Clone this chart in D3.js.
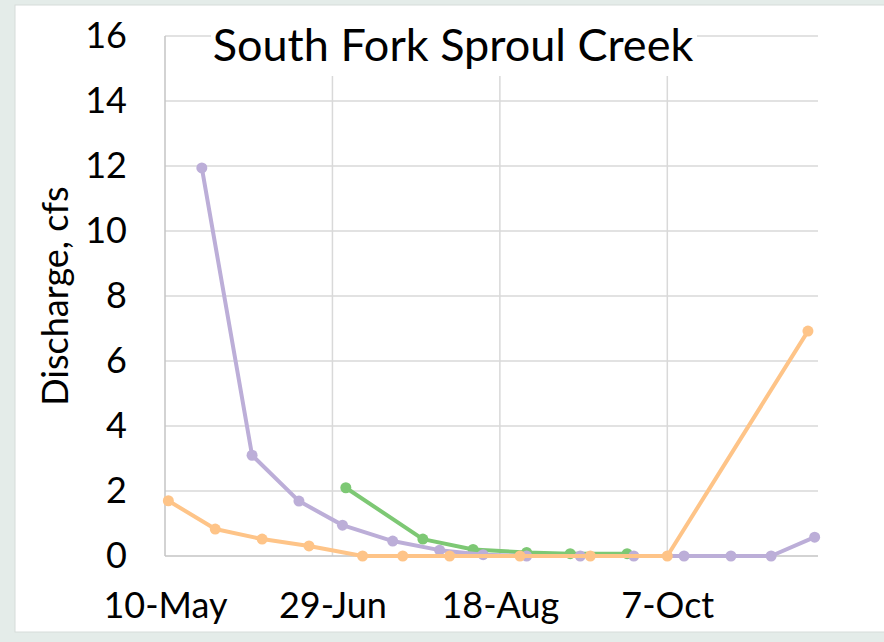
<!DOCTYPE html>
<html>
<head>
<meta charset="utf-8">
<script src="https://cdn.jsdelivr.net/npm/d3@7"></script>
<style>
  body { margin: 0; background: #e4ece9; }
  svg { display: block; font-family: Lato, "Open Sans", sans-serif; }
</style>
</head>
<body>
<div id="chart"></div>
<script>
// discharge readings, cfs
const orangeDates = ['2001-05-11', '2001-05-25', '2001-06-08', '2001-06-22', '2001-07-08', '2001-07-20',
  '2001-08-03', '2001-08-24', '2001-09-14', '2001-10-07', '2001-11-18'];
const orangeValues = [1.7, 0.83, 0.52, 0.31, 0, 0, 0, 0, 0, 0, 6.92];

const purpleDates = ['2001-05-21', '2001-06-05', '2001-06-19', '2001-07-02', '2001-07-17', '2001-07-31',
  '2001-08-13', '2001-08-26', '2001-09-11', '2001-09-27', '2001-10-12', '2001-10-26', '2001-11-07', '2001-11-20'];
const purpleValues = [11.94, 3.1, 1.69, 0.95, 0.46, 0.18, 0.04, 0, 0, 0, 0, 0, 0, 0.58];

const greenDates = ['2001-07-03', '2001-07-26', '2001-08-10', '2001-08-26', '2001-09-08', '2001-09-25'];
const greenValues = [2.1, 0.52, 0.2, 0.11, 0.07, 0.07];

const xTickDates = ['2001-05-10', '2001-06-29', '2001-08-18', '2001-10-07'];
const xDomain = ['2001-05-10', '2001-11-21'];
const yTicks = [0, 2, 4, 6, 8, 10, 12, 14, 16];

const width = 884;
const height = 642;
const margin = {top: 36, right: 66, bottom: 86, left: 165};

const parse = d3.timeParse('%Y-%m-%d');

let svg = d3.select('#chart')
    .append('svg')
    .attr('width', width)
    .attr('height', height);

// white card
svg.append('rect')
    .attr('x', 15).attr('y', 5)
    .attr('width', width).attr('height', 627)
    .attr('fill', '#fff')
    .attr('stroke', '#d6dcda');

let x = d3.scaleTime()
    .domain(xDomain.map(parse))
    .range([margin.left, width - margin.right]);

let y = d3.scaleLinear()
    .domain([0, 16])
    .range([height - margin.bottom, margin.top]);

// gridlines
svg.append('g')
    .selectAll('line.h')
    .data(yTicks.filter(d => d > 0))
    .enter().append('line')
    .attr('x1', x.range()[0]).attr('x2', x.range()[1])
    .attr('y1', d => y(d)).attr('y2', d => y(d))
    .attr('stroke', '#d9d9d9').attr('stroke-width', 1.5);

svg.append('g')
    .selectAll('line.v')
    .data(xTickDates.slice(1).map(parse))
    .enter().append('line')
    .attr('x1', d => x(d)).attr('x2', d => x(d))
    .attr('y1', y(0)).attr('y2', y(16))
    .attr('stroke', '#d9d9d9').attr('stroke-width', 1.5);

// axis lines
svg.append('line')
    .attr('x1', x.range()[0]).attr('x2', x.range()[0])
    .attr('y1', y(0)).attr('y2', y(16))
    .attr('stroke', '#c4c4c4').attr('stroke-width', 1.5);
svg.append('line')
    .attr('x1', x.range()[0]).attr('x2', x.range()[1])
    .attr('y1', y(0)).attr('y2', y(0))
    .attr('stroke', '#c4c4c4').attr('stroke-width', 1.5);

// title box covers the gridlines behind it
svg.append('rect')
    .attr('x', 211).attr('y', 10)
    .attr('width', 486).attr('height', 66)
    .attr('fill', '#fff');

svg.append('text')
    .attr('x', 453).attr('y', 61)
    .attr('text-anchor', 'middle')
    .style('font-size', '45px')
    .style('fill', '#000')
    .text('South Fork Sproul Creek');

// axes
let yAxis = svg.append('g')
    .attr('transform', `translate(${margin.left}, 0)`)
    .call(d3.axisLeft(y).tickValues(yTicks).tickSize(0).tickPadding(38));
yAxis.select('.domain').remove();
yAxis.selectAll('text')
    .style('font-size', '36px')
    .style('font-family', 'Lato, "Open Sans", sans-serif')
    .attr('fill', '#000');

let xAxis = svg.append('g')
    .attr('transform', `translate(0, ${y(0)})`)
    .call(d3.axisBottom(x).tickValues(xTickDates.map(parse))
        .tickFormat(d3.timeFormat('%-d-%b')).tickSize(0).tickPadding(36));
xAxis.select('.domain').remove();
xAxis.selectAll('text')
    .style('font-size', '36px')
    .style('font-family', 'Lato, "Open Sans", sans-serif')
    .attr('fill', '#000');

svg.append('text')
    .attr('transform', `translate(68, ${(y(0) + y(16)) / 2}) rotate(-90)`)
    .attr('text-anchor', 'middle')
    .style('font-size', '36px')
    .text('Discharge, cfs');

// series
function drawSeries(dates, values, color) {
    const pts = dates.map((d, i) => ({date: parse(d), value: values[i]}));
    const line = d3.line().x(d => x(d.date)).y(d => y(d.value));
    svg.append('path')
        .datum(pts)
        .attr('d', line)
        .attr('fill', 'none')
        .attr('stroke', color)
        .attr('stroke-width', 4)
        .attr('stroke-linejoin', 'round');
    svg.append('g')
        .selectAll('circle')
        .data(pts)
        .enter().append('circle')
        .attr('cx', d => x(d.date))
        .attr('cy', d => y(d.value))
        .attr('r', 5.5)
        .attr('fill', color);
}

drawSeries(greenDates, greenValues, '#7dc874');
drawSeries(purpleDates, purpleValues, '#bcaed8');
drawSeries(orangeDates, orangeValues, '#fec488');
</script>
</body>
</html>
